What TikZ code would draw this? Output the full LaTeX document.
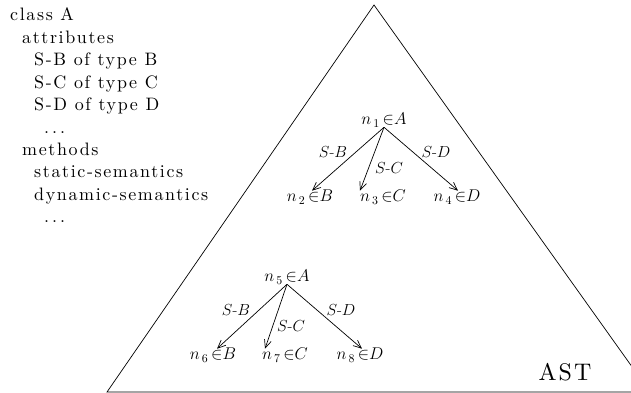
\RequirePackage{fix-cm}
\documentclass[tikz,border=0pt]{standalone}
\usepackage{fontspec}
\newfontfamily\lfttext{lmroman10-regular.otf}[LetterSpace=9]
\usetikzlibrary{arrows.meta}
\begin{document}
\begin{tikzpicture}[x=1pt,y=-1pt,
  every node/.style={inner sep=0pt},
  txt/.style={anchor=base west,font=\lfttext\fontsize{18}{21}\selectfont},
  tnode/.style={font=\fontsize{17}{20}\selectfont},
  elbl/.style={font=\fontsize{16}{19}\selectfont},
  arr/.style={-{Straight Barb[length=8pt,width=7pt]},line width=0.7pt},
  tri/.style={line width=0.7pt}]
\useasboundingbox (0,0) rectangle (631,393);
\clip (0,0) rectangle (631,393);
% triangle
\coordinate (apex) at (374,5);
\coordinate (bl) at (107,392);
\coordinate (br) at (650,392);
\draw[tri] (bl) -- (apex) -- (br) -- cycle;
\node[font=\lfttext\fontsize{24}{28}\selectfont] (ast) at (565,372) {AST};
% class text
\node[txt] (l1) at (10,21) {class A};
\node[txt] (l2) at (22,43.4) {attributes};
\node[txt] (l3) at (34,65.8) {S-B of type B};
\node[txt] (l4) at (34,88.2) {S-C of type C};
\node[txt] (l5) at (34,110.6) {S-D of type D};
\node[txt] (l6) at (44,133) {.\,.\,.};
\node[txt] (l7) at (22,155.4) {methods};
\node[txt] (l8) at (34,177.8) {static-semantics};
\node[txt] (l9) at (34,200.2) {dynamic-semantics};
\node[txt] (l10) at (44,222.6) {.\,.\,.};
% tree 1
\node[tnode] (n1) at (384,120) {$n_{\,1}\,{\in}A$};
\node[tnode] (n2) at (310,197) {$n_{\,2}\,{\in}B$};
\node[tnode] (n3) at (383,197) {$n_{\,3}\,{\in}C$};
\node[tnode] (n4) at (457,197) {$n_{\,4}\,{\in}D$};
\draw[arr] (n1.south) -- ([xshift=2pt,yshift=-1pt]n2.north);
\draw[arr] (n1.south) -- ([xshift=-23pt,yshift=-1pt]n3.north);
\draw[arr] (n1.south) -- ([xshift=1pt,yshift=-1pt]n4.north);
\node[elbl] (e1) at (333,152) {$S$-$B$};
\node[elbl] (e2) at (389,168) {$S$-$C$};
\node[elbl] (e3) at (436,152) {$S$-$D$};
% tree 2
\node[tnode] (n5) at (287,277) {$n_{\,5}\,{\in}A$};
\node[tnode] (n6) at (213,355) {$n_{\,6}\,{\in}B$};
\node[tnode] (n7) at (285,355) {$n_{\,7}\,{\in}C$};
\node[tnode] (n8) at (360,355) {$n_{\,8}\,{\in}D$};
\draw[arr] (n5.south) -- ([xshift=4pt,yshift=-1pt]n6.north);
\draw[arr] (n5.south) -- ([xshift=-20pt,yshift=-1pt]n7.north);
\draw[arr] (n5.south) -- ([xshift=2pt,yshift=-1pt]n8.north);
\node[elbl] (e4) at (236,310) {$S$-$B$};
\node[elbl] (e5) at (291,326) {$S$-$C$};
\node[elbl] (e6) at (341,310) {$S$-$D$};
\end{tikzpicture}
\end{document}
